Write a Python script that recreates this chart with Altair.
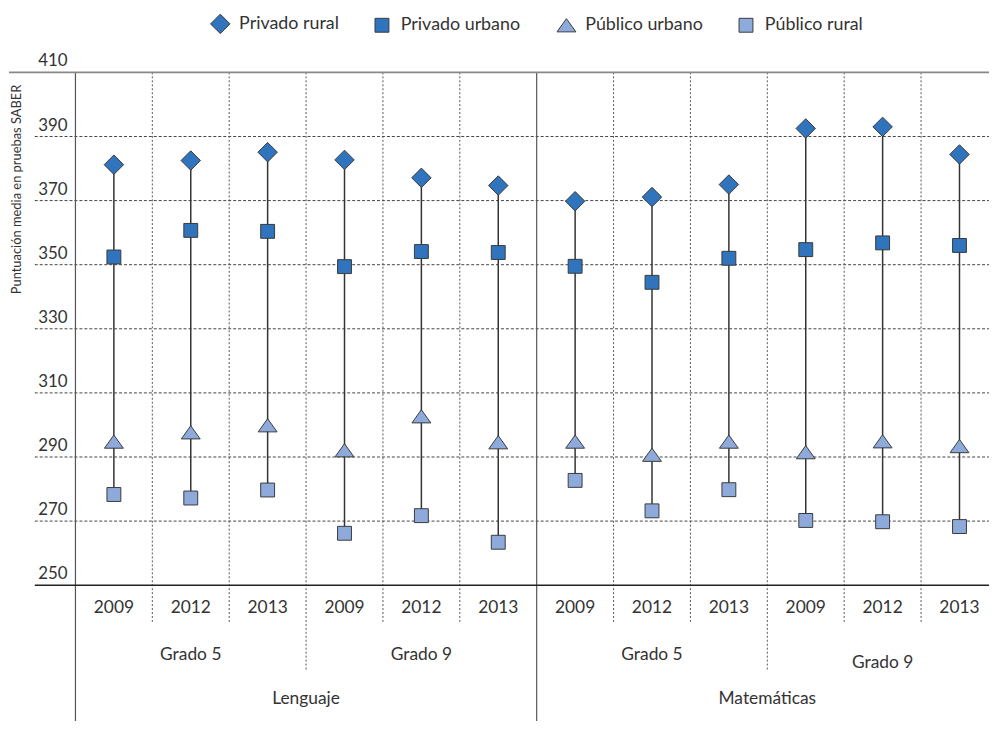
import altair as alt
import pandas as pd

# ---------------- data ----------------
years = ["2009", "2012", "2013"] * 4
grados = ["Grado 5", "Grado 9", "Grado 5", "Grado 9"]
areas = ["Lenguaje", "Matemáticas"]
series = ["Privado rural", "Privado urbano", "Público urbano", "Público rural"]

privado_rural = [381.2, 382.5, 385.1, 382.7, 377.1, 374.7, 369.8, 371.1, 375.0, 392.5, 393.0, 384.4]
privado_urbano = [352.4, 360.7, 360.4, 349.4, 354.1, 353.8, 349.5, 344.5, 352.0, 354.7, 356.8, 356.0]
publico_urbano = [294.8, 297.7, 299.9, 292.1, 302.7, 294.6, 294.8, 290.7, 294.8, 291.5, 294.9, 293.4]
publico_rural = [278.3, 277.2, 279.7, 266.2, 271.7, 263.4, 282.7, 273.2, 279.8, 270.2, 269.8, 268.3]

y_ticks = [250, 270, 290, 310, 330, 350, 370, 390, 410]
grid_vals = [270, 290, 310, 330, 350, 370, 390]

# ---------------- layout ----------------
W, H = 912, 517
FONT = "Lato"
TXT = "#333333"
DARK = "#2F74BC"
LIGHT = "#8EAADB"

n = len(years)
pos = [i + 0.5 for i in range(n)]
xs = alt.Scale(domain=[0, W / 77.5], nice=False, zero=False)
ys = alt.Scale(domain=[250, 410], nice=False, zero=False)

vals = {
    "Privado rural": privado_rural,
    "Privado urbano": privado_urbano,
    "Público urbano": publico_urbano,
    "Público rural": publico_rural,
}
pts = pd.DataFrame(
    [{"pos": pos[i], "v": vals[s][i], "serie": s} for s in series for i in range(n)]
)
rng = pd.DataFrame(
    {
        "pos": pos,
        "lo": [min(vals[s][i] for s in series) for i in range(n)],
        "hi": [max(vals[s][i] for s in series) for i in range(n)],
    }
)
yr = pd.DataFrame({"pos": pos, "t": years})
gr = pd.DataFrame(
    {"pos": [sum(pos[3 * k:3 * k + 3]) / 3 for k in range(4)], "t": grados}
)
ar = pd.DataFrame(
    {"pos": [sum(pos[6 * k:6 * k + 6]) / 6 for k in range(2)], "t": areas}
)
ticks = pd.DataFrame({"v": y_ticks})
grid = pd.DataFrame({"v": grid_vals})

X = lambda f: alt.X(f, scale=xs, axis=None)
Y = lambda f: alt.Y(f, scale=ys, axis=None)

hgrid = alt.Chart(grid).mark_rule(color="#444", strokeDash=[3, 2], strokeWidth=1).encode(
    y=Y("v:Q"), x=alt.value(-41), x2=alt.value(W + 9)
)
base250 = alt.Chart(pd.DataFrame({"v": [y_ticks[0]]})).mark_rule(color="#222", strokeWidth=1.5).encode(
    y=Y("v:Q"), x=alt.value(-41), x2=alt.value(W + 9)
)
top410 = alt.Chart(pd.DataFrame({"v": [y_ticks[-1]]})).mark_rule(color="#888", strokeWidth=2).encode(
    y=Y("v:Q"), x=alt.value(-67), x2=alt.value(W + 9)
)
ylab = alt.Chart(ticks).mark_text(
    align="right", baseline="alphabetic", dy=-6, font=FONT, fontSize=17, color=TXT
).encode(y=Y("v:Q"), x=alt.value(-8), text=alt.Text("v:Q"))

vshort = alt.Chart(pd.DataFrame({"b": [1, 2, 4, 5, 7, 8, 10, 11]})).mark_rule(
    color="#555", strokeDash=[2, 2], strokeWidth=1
).encode(x=X("b:Q"), y=alt.value(0), y2=alt.value(555))
vlong = alt.Chart(pd.DataFrame({"b": [3, 9]})).mark_rule(
    color="#555", strokeDash=[2, 2], strokeWidth=1
).encode(x=X("b:Q"), y=alt.value(0), y2=alt.value(603))
vsolid = alt.Chart(pd.DataFrame({"b": [0, 6]})).mark_rule(color="#555", strokeWidth=1.2).encode(
    x=X("b:Q"), y=alt.value(0), y2=alt.value(700)
)

stems = alt.Chart(rng).mark_rule(color="#333", strokeWidth=1.5).encode(
    x=X("pos:Q"), y=Y("lo:Q"), y2="hi:Q"
)

shapes = [
    "M-1.4,0L0,-1.4L1.4,0L0,1.4Z",
    "M-1,-1H1V1H-1Z",
    "M0,-0.95L1.36,0.95H-1.36Z",
    "M-1,-1H1V1H-1Z",
]
points = alt.Chart(pts).mark_point(
    filled=True, opacity=1, size=196, stroke="#3a3a3a", strokeWidth=1
).encode(
    x=X("pos:Q"),
    y=Y("v:Q"),
    color=alt.Color(
        "serie:N",
        scale=alt.Scale(domain=series, range=[DARK, DARK, LIGHT, LIGHT]),
        title=None,
        legend=alt.Legend(
            orient="none", legendX=137, legendY=-58, direction="horizontal", columns=4,
            symbolSize=196, labelFont=FONT, labelFontSize=18, labelColor=TXT,
            columnPadding=34, labelOffset=10, padding=0,
            symbolStrokeColor="#3a3a3a", symbolStrokeWidth=1, symbolOpacity=1,
        ),
    ),
    shape=alt.Shape("serie:N", scale=alt.Scale(domain=series, range=shapes), title=None),
)

yrtxt = alt.Chart(yr).mark_text(font=FONT, fontSize=17.5, color=TXT, baseline="middle").encode(
    x=X("pos:Q"), y=alt.value(540), text="t:N"
)
grtxt_a = alt.Chart(gr).transform_filter(alt.datum.pos < 9).mark_text(
    font=FONT, fontSize=17.5, color=TXT, baseline="middle"
).encode(x=X("pos:Q"), y=alt.value(587), text="t:N")
grtxt_b = alt.Chart(gr).transform_filter(alt.datum.pos > 9).mark_text(
    font=FONT, fontSize=17.5, color=TXT, baseline="middle"
).encode(x=X("pos:Q"), y=alt.value(595), text="t:N")
artxt = alt.Chart(ar).mark_text(font=FONT, fontSize=17.5, color=TXT, baseline="middle").encode(
    x=X("pos:Q"), y=alt.value(632), text="t:N"
)
ytitle = alt.Chart(pd.DataFrame({"t": ["Puntuación media en pruebas SABER"]})).mark_text(
    font=FONT, fontSize=13, color=TXT, angle=270, baseline="middle", align="center"
).encode(x=alt.value(-59), y=alt.value(118), text="t:N")

chart = alt.layer(
    hgrid, vshort, vlong, vsolid, base250, top410, ylab, stems, points,
    yrtxt, grtxt_a, grtxt_b, artxt, ytitle
).properties(
    width=W,
    height=H,
    autosize=alt.AutoSizeParams(type="none"),
    padding={"left": 68, "top": 62, "right": 9, "bottom": 134},
).configure_view(stroke=None)

chart.save("out.html", embed_options={"renderer": "svg", "actions": False})
